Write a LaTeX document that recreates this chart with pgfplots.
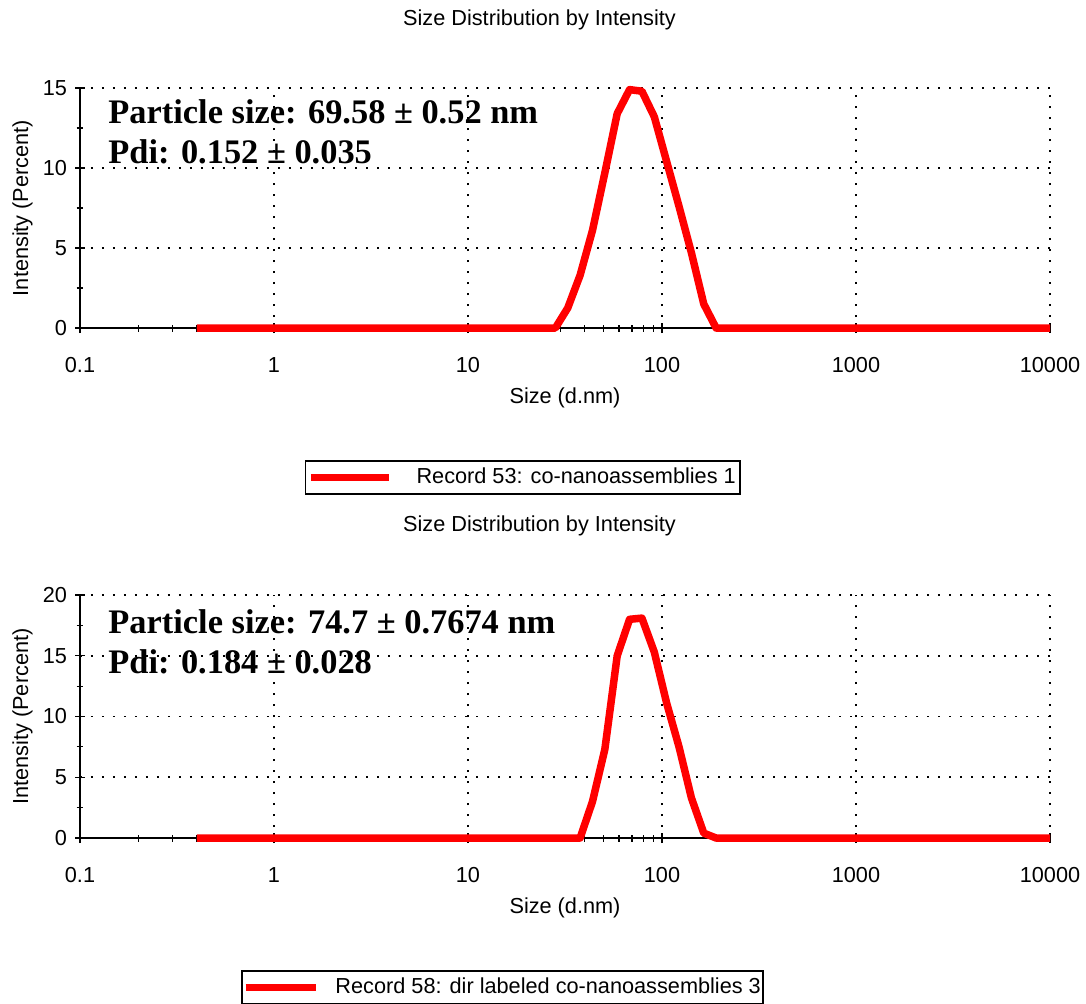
\documentclass[border=0pt]{standalone}
\usepackage{fontspec}
\setmainfont{Liberation Sans}
\newfontfamily\annfont{Liberation Serif}
\usepackage{pgfplots}
\pgfplotsset{compat=1.18}
\newcommand{\lblfont}{\fontsize{10.85}{13}\selectfont}
\newcommand{\annsize}{\annfont\bfseries\fontsize{17.2}{20}\selectfont}
\begin{document}
\begin{tikzpicture}
\useasboundingbox (0,0) rectangle (543pt,-501.5pt);
% ---------- top panel ----------
\begin{axis}[
  at={(40pt,-164pt)}, anchor=south west,
  xmode=log, log basis x=10,
  scale only axis, width=485pt, height=120pt,
  xmin=0.1, xmax=10000, ymin=0, ymax=15,
  clip=false,
  axis x line=bottom, axis y line=left,
  axis line style={-, line width=0.8pt, black},
  xtick={0.1,1,10,100,1000,10000},
  xticklabels={0.1,1,10,100,1000,10000},
  minor xtick={0.2,0.3,0.4,0.5,0.6,0.7,0.8,0.9,2,3,4,5,6,7,8,9,20,30,40,50,60,70,80,90,200,300,400,500,600,700,800,900,2000,3000,4000,5000,6000,7000,8000,9000},
  ytick={0,5,10,15}, yticklabels={0,5,10,15}, minor ytick={2.5,7.5,12.5},
  tick align=center,
  major tick length=5pt, minor tick length=3.5pt,
  tick style={black, line width=0.6pt},
  grid=major,
  major grid style={black, line width=0.8pt, dash pattern=on 0.8pt off 4.7pt},
  tick label style={font=\lblfont, black},
  xticklabel style={anchor=base, yshift=-19.5pt},
  yticklabel style={anchor=east, xshift=-0.5pt},
  title={Size Distribution by Intensity},
  title style={font=\lblfont, anchor=base, at={(axis description cs:0.4737,1.2125)}},
  xlabel={Size (d.nm)},
  ylabel={Intensity (Percent)},
  label style={font=\lblfont},
  xlabel style={at={(axis description cs:0.5,-0.3125)}, anchor=base},
  ylabel style={at={(axis description cs:-0.0536,0.5)}, anchor=base},
  legend style={draw=black, line width=0.8pt, font=\lblfont, inner xsep=0.75pt, inner ysep=1.5pt,
    nodes={inner xsep=1.5pt},
    at={(axis description cs:0.4567,-0.623)}, anchor=center},
  legend cell align=left,
  legend image code/.code={\draw[#1, line width=3.6pt] (0pt,0pt) -- (39pt,0pt); \path (49.5pt,0pt);},
]
\addplot[red, line width=3.75pt, line join=round] coordinates {
(0.4,0) (0.4632,0) (0.5365,0) (0.6213,0) (0.7195,0) (0.8332,0) (0.9649,0)
(1.117,0) (1.294,0) (1.499,0) (1.736,0) (2.010,0) (2.328,0) (2.696,0)
(3.122,0) (3.615,0) (4.187,0) (4.849,0) (5.615,0) (6.503,0) (7.531,0)
(8.721,0) (10.10,0) (11.70,0) (13.54,0) (15.69,0) (18.17,0) (21.04,0)
(24.36,0) (28.21,0) (32.67,1.25) (37.84,3.3) (43.82,6.1) (50.75,9.7)
(58.77,13.4) (68.06,14.9) (78.82,14.8) (91.28,13.2) (105.7,10.4)
(122.4,7.6) (141.8,4.7) (164.2,1.5) (190.1,0) (220.2,0) (255.0,0)
(295.3,0) (342.0,0) (396.1,0) (458.7,0) (531.2,0) (615.1,0) (712.4,0)
(825.0,0) (955.4,0) (1106,0) (1281,0) (1484,0) (1718,0) (1990,0)
(2305,0) (2669,0) (3091,0) (3580,0) (4145,0) (4801,0) (5560,0)
(6439,0) (7456,0) (8635,0) (10000,0)
};
\addlegendentry{Record 53: co-nanoassemblies 1}
\node[anchor=base west, font=\annsize, inner sep=0pt] at (axis description cs:0.0289,0.854) {Particle size: 69.58 ± 0.52 nm};
\node[anchor=base west, font=\annsize, inner sep=0pt] at (axis description cs:0.0289,0.6875) {Pdi: 0.152 ± 0.035};
\end{axis}
% ---------- bottom panel ----------
\begin{axis}[
  at={(40pt,-419pt)}, anchor=south west,
  xmode=log, log basis x=10,
  scale only axis, width=485pt, height=121.5pt,
  xmin=0.1, xmax=10000, ymin=0, ymax=20,
  clip=false,
  axis x line=bottom, axis y line=left,
  axis line style={-, line width=0.8pt, black},
  xtick={0.1,1,10,100,1000,10000},
  xticklabels={0.1,1,10,100,1000,10000},
  minor xtick={0.2,0.3,0.4,0.5,0.6,0.7,0.8,0.9,2,3,4,5,6,7,8,9,20,30,40,50,60,70,80,90,200,300,400,500,600,700,800,900,2000,3000,4000,5000,6000,7000,8000,9000},
  ytick={0,5,10,15,20}, yticklabels={0,5,10,15,20}, minor ytick={2.5,7.5,12.5,17.5},
  tick align=center,
  major tick length=5pt, minor tick length=3.5pt,
  tick style={black, line width=0.6pt},
  grid=major,
  major grid style={black, line width=0.8pt, dash pattern=on 0.8pt off 4.7pt},
  tick label style={font=\lblfont, black},
  xticklabel style={anchor=base, yshift=-19.5pt},
  yticklabel style={anchor=east, xshift=-0.5pt},
  title={Size Distribution by Intensity},
  title style={font=\lblfont, anchor=base, at={(axis description cs:0.4737,1.21)}},
  xlabel={Size (d.nm)},
  ylabel={Intensity (Percent)},
  label style={font=\lblfont},
  xlabel style={at={(axis description cs:0.5,-0.309)}, anchor=base},
  ylabel style={at={(axis description cs:-0.0536,0.5)}, anchor=base},
  legend style={draw=black, line width=0.8pt, font=\lblfont, inner xsep=0pt, inner ysep=1.5pt,
    nodes={inner xsep=1pt},
    at={(axis description cs:0.4356,-0.615)}, anchor=center},
  legend cell align=left,
  legend image code/.code={\draw[#1, line width=3.6pt] (0pt,0pt) -- (35pt,0pt); \path (42pt,0pt);},
]
\addplot[red, line width=3.75pt, line join=round] coordinates {
(0.4,0) (0.4632,0) (0.5365,0) (0.6213,0) (0.7195,0) (0.8332,0) (0.9649,0)
(1.117,0) (1.294,0) (1.499,0) (1.736,0) (2.010,0) (2.328,0) (2.696,0)
(3.122,0) (3.615,0) (4.187,0) (4.849,0) (5.615,0) (6.503,0) (7.531,0)
(8.721,0) (10.10,0) (11.70,0) (13.54,0) (15.69,0) (18.17,0) (21.04,0)
(24.36,0) (28.21,0) (32.67,0) (37.84,0) (43.82,3.0) (50.75,7.3)
(58.77,15.0) (68.06,18.0) (78.82,18.1) (91.28,15.3) (105.7,11.1)
(122.4,7.5) (141.8,3.3) (164.2,0.4) (190.1,0) (220.2,0) (255.0,0)
(295.3,0) (342.0,0) (396.1,0) (458.7,0) (531.2,0) (615.1,0) (712.4,0)
(825.0,0) (955.4,0) (1106,0) (1281,0) (1484,0) (1718,0) (1990,0)
(2305,0) (2669,0) (3091,0) (3580,0) (4145,0) (4801,0) (5560,0)
(6439,0) (7456,0) (8635,0) (10000,0)
};
\addlegendentry{Record 58: dir labeled co-nanoassemblies 3}
\node[anchor=base west, font=\annsize, inner sep=0pt] at (axis description cs:0.0289,0.8436) {Particle size: 74.7 ± 0.7674 nm};
\node[anchor=base west, font=\annsize, inner sep=0pt] at (axis description cs:0.0289,0.679) {Pdi: 0.184 ± 0.028};
\end{axis}
\end{tikzpicture}
\end{document}
